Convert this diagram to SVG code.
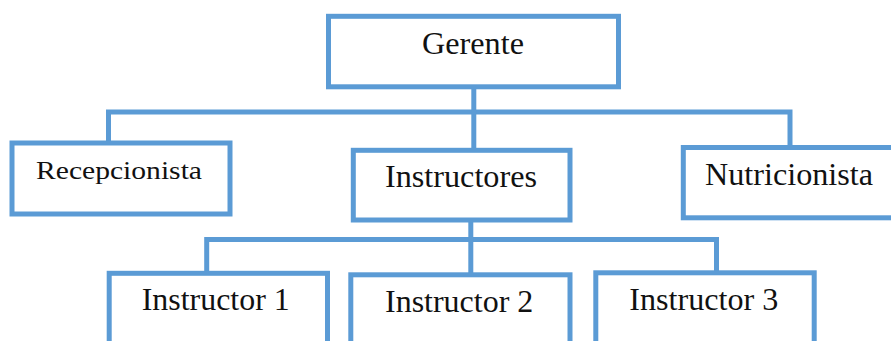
<svg xmlns="http://www.w3.org/2000/svg" width="891" height="341" viewBox="0 0 891 341">
<style>
.box{fill:#fff;stroke:#5B9BD5;stroke-width:5}
.con{fill:none;stroke:#5B9BD5;stroke-width:5;stroke-linejoin:miter}
.t{font-family:"Liberation Serif","Times New Roman",serif;font-size:32px;fill:#111}
</style>
<rect width="891" height="341" fill="#fff"/>
<g id="connectors">
<path class="con" d="M108.5,143 V112 H790 V148"/>
<path class="con" d="M473.8,87 V150.5"/>
<path class="con" d="M206.7,273 V239.5 H716.5 V273"/>
<path class="con" d="M470.8,220 V275"/>
</g>
<g id="gerente">
<rect class="box" x="328.5" y="16.3" width="290" height="70.5"/>
<text class="t" x="422" y="53.5" textLength="102" lengthAdjust="spacingAndGlyphs">Gerente</text>
</g>
<g id="recepcionista">
<rect class="box" x="12" y="143" width="218" height="71"/>
<text class="t" x="36" y="179.3" style="font-size:25.5px" textLength="166" lengthAdjust="spacingAndGlyphs">Recepcionista</text>
</g>
<g id="instructores">
<rect class="box" x="353.3" y="150.3" width="216.7" height="69.7"/>
<text class="t" x="385" y="186.7" textLength="152" lengthAdjust="spacingAndGlyphs">Instructores</text>
</g>
<g id="nutricionista">
<rect class="box" x="683.3" y="147.5" width="220" height="70.3"/>
<text class="t" x="705" y="185" textLength="168" lengthAdjust="spacingAndGlyphs">Nutricionista</text>
</g>
<g id="instructor1">
<rect class="box" x="109.2" y="273.3" width="218.3" height="90"/>
<text class="t" x="141.7" y="310" textLength="148" lengthAdjust="spacingAndGlyphs">Instructor 1</text>
</g>
<g id="instructor2">
<rect class="box" x="350.8" y="274.8" width="219.2" height="90"/>
<text class="t" x="385" y="311.5" textLength="148.3" lengthAdjust="spacingAndGlyphs">Instructor 2</text>
</g>
<g id="instructor3">
<rect class="box" x="595.8" y="272.8" width="218.4" height="90"/>
<text class="t" x="629.3" y="310" textLength="149" lengthAdjust="spacingAndGlyphs">Instructor 3</text>
</g>
</svg>
